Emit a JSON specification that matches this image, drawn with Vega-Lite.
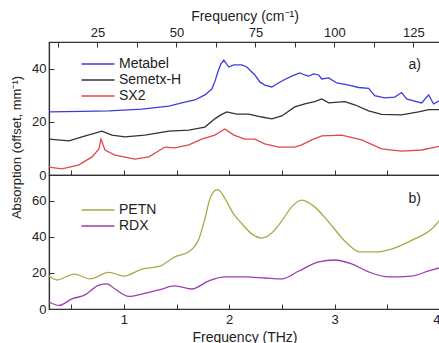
{
  "$schema": "https://vega.github.io/schema/vega-lite/v6.json",
  "autosize": {"type": "pad"},
  "padding": {"left": 9, "top": 8, "right": 0, "bottom": 0},
  "background": "white",
  "config": {
    "font": "Liberation Sans",
    "view": {"stroke": "#333", "strokeWidth": 1.2},
    "axis": {"grid": false, "labelFontSize": 13, "titleFontSize": 14, "titleFontWeight": "normal", "labelColor": "#222", "titleColor": "#222", "domainColor": "#333", "domainWidth": 1.2, "tickColor": "#333", "tickSize": -5, "labelPadding": 8, "titlePadding": 3},
    "legend": {"orient": "none", "title": null, "symbolType": "M-3,0H3", "symbolSize": 121, "symbolStrokeWidth": 1.5, "labelFontSize": 14, "labelOffset": 14, "padding": 0, "rowPadding": 2, "labelColor": "#222"}
  },
  "datasets": {
    "top": [
      {"s": "Metabel", "f": 0.290, "a": 23.7}, {"s": "Metabel", "f": 0.603, "a": 23.9}, {"s": "Metabel", "f": 0.859, "a": 24.1}, {"s": "Metabel", "f": 1.172, "a": 24.8}, {"s": "Metabel", "f": 1.427, "a": 25.9}, {"s": "Metabel", "f": 1.579, "a": 27.4}, {"s": "Metabel", "f": 1.674, "a": 28.2}, {"s": "Metabel", "f": 1.769, "a": 30.1}, {"s": "Metabel", "f": 1.835, "a": 32.3}, {"s": "Metabel", "f": 1.863, "a": 35.0}, {"s": "Metabel", "f": 1.892, "a": 38.7}, {"s": "Metabel", "f": 1.920, "a": 41.7}, {"s": "Metabel", "f": 1.949, "a": 43.2}, {"s": "Metabel", "f": 1.996, "a": 40.6}, {"s": "Metabel", "f": 2.044, "a": 41.4}, {"s": "Metabel", "f": 2.119, "a": 41.4}, {"s": "Metabel", "f": 2.167, "a": 40.6}, {"s": "Metabel", "f": 2.243, "a": 37.6}, {"s": "Metabel", "f": 2.290, "a": 35.0}, {"s": "Metabel", "f": 2.337, "a": 33.8}, {"s": "Metabel", "f": 2.404, "a": 33.1}, {"s": "Metabel", "f": 2.451, "a": 34.2}, {"s": "Metabel", "f": 2.518, "a": 35.7}, {"s": "Metabel", "f": 2.593, "a": 37.2}, {"s": "Metabel", "f": 2.669, "a": 38.4}, {"s": "Metabel", "f": 2.717, "a": 37.6}, {"s": "Metabel", "f": 2.754, "a": 37.2}, {"s": "Metabel", "f": 2.802, "a": 38.0}, {"s": "Metabel", "f": 2.849, "a": 37.6}, {"s": "Metabel", "f": 2.878, "a": 36.1}, {"s": "Metabel", "f": 2.944, "a": 36.5}, {"s": "Metabel", "f": 3.020, "a": 34.6}, {"s": "Metabel", "f": 3.134, "a": 33.8}, {"s": "Metabel", "f": 3.228, "a": 32.9}, {"s": "Metabel", "f": 3.323, "a": 32.6}, {"s": "Metabel", "f": 3.380, "a": 29.8}, {"s": "Metabel", "f": 3.475, "a": 29.0}, {"s": "Metabel", "f": 3.570, "a": 29.3}, {"s": "Metabel", "f": 3.636, "a": 31.0}, {"s": "Metabel", "f": 3.683, "a": 28.6}, {"s": "Metabel", "f": 3.759, "a": 27.8}, {"s": "Metabel", "f": 3.826, "a": 27.1}, {"s": "Metabel", "f": 3.892, "a": 30.1}, {"s": "Metabel", "f": 3.939, "a": 26.7}, {"s": "Metabel", "f": 4.006, "a": 28.2},
      {"s": "Semetx-H", "f": 0.290, "a": 13.5}, {"s": "Semetx-H", "f": 0.480, "a": 12.8}, {"s": "Semetx-H", "f": 0.603, "a": 14.3}, {"s": "Semetx-H", "f": 0.792, "a": 16.5}, {"s": "Semetx-H", "f": 0.887, "a": 15.0}, {"s": "Semetx-H", "f": 1.010, "a": 14.3}, {"s": "Semetx-H", "f": 1.200, "a": 15.0}, {"s": "Semetx-H", "f": 1.427, "a": 16.5}, {"s": "Semetx-H", "f": 1.617, "a": 16.9}, {"s": "Semetx-H", "f": 1.769, "a": 18.0}, {"s": "Semetx-H", "f": 1.863, "a": 21.1}, {"s": "Semetx-H", "f": 1.920, "a": 22.6}, {"s": "Semetx-H", "f": 1.977, "a": 23.7}, {"s": "Semetx-H", "f": 2.072, "a": 22.9}, {"s": "Semetx-H", "f": 2.186, "a": 22.9}, {"s": "Semetx-H", "f": 2.309, "a": 21.8}, {"s": "Semetx-H", "f": 2.404, "a": 21.1}, {"s": "Semetx-H", "f": 2.499, "a": 22.2}, {"s": "Semetx-H", "f": 2.622, "a": 25.6}, {"s": "Semetx-H", "f": 2.717, "a": 26.7}, {"s": "Semetx-H", "f": 2.811, "a": 27.6}, {"s": "Semetx-H", "f": 2.878, "a": 28.6}, {"s": "Semetx-H", "f": 2.944, "a": 27.1}, {"s": "Semetx-H", "f": 3.096, "a": 27.6}, {"s": "Semetx-H", "f": 3.190, "a": 26.4}, {"s": "Semetx-H", "f": 3.323, "a": 24.1}, {"s": "Semetx-H", "f": 3.446, "a": 22.8}, {"s": "Semetx-H", "f": 3.636, "a": 22.6}, {"s": "Semetx-H", "f": 3.797, "a": 23.7}, {"s": "Semetx-H", "f": 3.892, "a": 24.6}, {"s": "Semetx-H", "f": 4.006, "a": 24.6},
      {"s": "SX2", "f": 0.290, "a": 3.0}, {"s": "SX2", "f": 0.413, "a": 2.3}, {"s": "SX2", "f": 0.574, "a": 3.8}, {"s": "SX2", "f": 0.698, "a": 6.8}, {"s": "SX2", "f": 0.764, "a": 9.8}, {"s": "SX2", "f": 0.783, "a": 13.5}, {"s": "SX2", "f": 0.821, "a": 9.4}, {"s": "SX2", "f": 0.916, "a": 7.5}, {"s": "SX2", "f": 1.105, "a": 6.0}, {"s": "SX2", "f": 1.238, "a": 6.8}, {"s": "SX2", "f": 1.390, "a": 10.5}, {"s": "SX2", "f": 1.484, "a": 10.2}, {"s": "SX2", "f": 1.617, "a": 11.3}, {"s": "SX2", "f": 1.740, "a": 13.5}, {"s": "SX2", "f": 1.863, "a": 15.0}, {"s": "SX2", "f": 1.958, "a": 17.3}, {"s": "SX2", "f": 2.044, "a": 15.0}, {"s": "SX2", "f": 2.148, "a": 13.5}, {"s": "SX2", "f": 2.243, "a": 13.5}, {"s": "SX2", "f": 2.337, "a": 11.7}, {"s": "SX2", "f": 2.470, "a": 10.5}, {"s": "SX2", "f": 2.622, "a": 10.5}, {"s": "SX2", "f": 2.688, "a": 11.3}, {"s": "SX2", "f": 2.783, "a": 13.2}, {"s": "SX2", "f": 2.878, "a": 14.7}, {"s": "SX2", "f": 3.067, "a": 15.0}, {"s": "SX2", "f": 3.257, "a": 13.2}, {"s": "SX2", "f": 3.446, "a": 9.8}, {"s": "SX2", "f": 3.636, "a": 9.0}, {"s": "SX2", "f": 3.826, "a": 9.4}, {"s": "SX2", "f": 4.006, "a": 10.9}
    ],
    "bottom": [
      {"s": "PETN", "f": 0.290, "a": 18.3}, {"s": "PETN", "f": 0.366, "a": 16.1}, {"s": "PETN", "f": 0.527, "a": 19.4}, {"s": "PETN", "f": 0.679, "a": 16.7}, {"s": "PETN", "f": 0.859, "a": 20.3}, {"s": "PETN", "f": 1.001, "a": 18.3}, {"s": "PETN", "f": 1.172, "a": 22.2}, {"s": "PETN", "f": 1.333, "a": 23.6}, {"s": "PETN", "f": 1.484, "a": 28.9}, {"s": "PETN", "f": 1.627, "a": 32.2}, {"s": "PETN", "f": 1.712, "a": 38.9}, {"s": "PETN", "f": 1.769, "a": 50.0}, {"s": "PETN", "f": 1.816, "a": 61.0}, {"s": "PETN", "f": 1.863, "a": 65.6}, {"s": "PETN", "f": 1.892, "a": 66.3}, {"s": "PETN", "f": 1.920, "a": 65.0}, {"s": "PETN", "f": 1.958, "a": 61.5}, {"s": "PETN", "f": 2.044, "a": 52.5}, {"s": "PETN", "f": 2.119, "a": 47.5}, {"s": "PETN", "f": 2.214, "a": 41.7}, {"s": "PETN", "f": 2.309, "a": 39.4}, {"s": "PETN", "f": 2.404, "a": 42.2}, {"s": "PETN", "f": 2.499, "a": 48.9}, {"s": "PETN", "f": 2.593, "a": 56.7}, {"s": "PETN", "f": 2.688, "a": 60.4}, {"s": "PETN", "f": 2.811, "a": 56.7}, {"s": "PETN", "f": 2.944, "a": 48.3}, {"s": "PETN", "f": 3.096, "a": 37.8}, {"s": "PETN", "f": 3.238, "a": 31.7}, {"s": "PETN", "f": 3.380, "a": 31.7}, {"s": "PETN", "f": 3.541, "a": 33.3}, {"s": "PETN", "f": 3.759, "a": 38.9}, {"s": "PETN", "f": 3.920, "a": 44.4}, {"s": "PETN", "f": 4.006, "a": 50.0},
      {"s": "RDX", "f": 0.290, "a": 3.9}, {"s": "RDX", "f": 0.385, "a": 2.0}, {"s": "RDX", "f": 0.508, "a": 5.6}, {"s": "RDX", "f": 0.631, "a": 7.8}, {"s": "RDX", "f": 0.764, "a": 13.3}, {"s": "RDX", "f": 0.840, "a": 13.9}, {"s": "RDX", "f": 0.916, "a": 11.1}, {"s": "RDX", "f": 1.048, "a": 7.0}, {"s": "RDX", "f": 1.172, "a": 8.3}, {"s": "RDX", "f": 1.333, "a": 10.6}, {"s": "RDX", "f": 1.484, "a": 12.8}, {"s": "RDX", "f": 1.645, "a": 11.1}, {"s": "RDX", "f": 1.807, "a": 15.6}, {"s": "RDX", "f": 1.958, "a": 17.8}, {"s": "RDX", "f": 2.148, "a": 17.8}, {"s": "RDX", "f": 2.337, "a": 17.2}, {"s": "RDX", "f": 2.499, "a": 16.7}, {"s": "RDX", "f": 2.660, "a": 21.1}, {"s": "RDX", "f": 2.849, "a": 26.1}, {"s": "RDX", "f": 3.001, "a": 27.2}, {"s": "RDX", "f": 3.162, "a": 25.0}, {"s": "RDX", "f": 3.323, "a": 20.6}, {"s": "RDX", "f": 3.513, "a": 17.8}, {"s": "RDX", "f": 3.731, "a": 18.3}, {"s": "RDX", "f": 3.892, "a": 21.1}, {"s": "RDX", "f": 4.006, "a": 23.0}
    ]
  },
  "vconcat": [
    {
      "width": 391,
      "height": 133,
      "layer": [
        {
          "data": {"name": "top"},
          "mark": {"type": "line", "strokeWidth": 1.3},
          "encoding": {
            "x": {"field": "f", "type": "quantitative", "scale": {"domain": [0.29, 4.0], "nice": false, "zero": false},
                  "axis": {"orient": "bottom", "values": [0.5, 1, 1.5, 2, 2.5, 3, 3.5, 4], "labels": false, "title": null}},
            "y": {"field": "a", "type": "quantitative", "scale": {"domain": [0, 50], "nice": false},
                  "axis": {"values": [0, 10, 20, 30, 40], "labelExpr": "datum.value % 20 == 0 ? format(datum.value, 'd') : ''", "title": "Absorption (offset, mm⁻¹)", "titleX": -26, "titleY": 105, "titleFontSize": 13}},
            "color": {"field": "s", "type": "nominal", "scale": {"domain": ["Metabel", "Semetx-H", "SX2"], "range": ["#3c3cdc", "#333333", "#e0474c"]},
                      "legend": {"legendX": 42, "legendY": 15}}
          }
        },
        {
          "data": {"values": [{}]},
          "mark": {"type": "text", "text": "a)", "fontSize": 14, "color": "#222"},
          "encoding": {
            "x": {"datum": 3.76, "type": "quantitative",
                  "axis": {"orient": "top", "values": [0.3747, 0.7495, 1.1242, 1.499, 1.8737, 2.2485, 2.6232, 2.9979, 3.3727, 3.7474], "labelExpr": "round(datum.value * 33.3564) % 25 == 0 ? format(round(datum.value * 33.3564), 'd') : ''", "title": "Frequency (cm⁻¹)"}},
            "y": {"datum": 41.4, "type": "quantitative"}
          }
        }
      ],
      "resolve": {"axis": {"x": "independent"}}
    },
    {
      "width": 391,
      "height": 134,
      "layer": [
        {
          "data": {"name": "bottom"},
          "mark": {"type": "line", "strokeWidth": 1.3, "interpolate": "monotone"},
          "encoding": {
            "x": {"field": "f", "type": "quantitative", "scale": {"domain": [0.29, 4.0], "nice": false, "zero": false},
                  "axis": {"values": [0.5, 1, 1.5, 2, 2.5, 3, 3.5, 4], "labelExpr": "datum.value % 1 == 0 ? format(datum.value, 'd') : ''", "title": "Frequency (THz)", "labelPadding": 9, "titlePadding": 4, "labelFlush": true}},
            "y": {"field": "a", "type": "quantitative", "scale": {"domain": [0, 74.4], "nice": false},
                  "axis": {"values": [0, 10, 20, 30, 40, 50, 60, 70], "labelExpr": "datum.value % 20 == 0 ? format(datum.value, 'd') : ''", "title": null}},
            "color": {"field": "s", "type": "nominal", "scale": {"domain": ["PETN", "RDX"], "range": ["#a8aa44", "#9c3fae"]},
                      "legend": {"legendX": 42, "legendY": 28}}
          }
        },
        {
          "data": {"values": [{}]},
          "mark": {"type": "text", "text": "b)", "fontSize": 14, "color": "#222"},
          "encoding": {
            "x": {"datum": 3.76, "type": "quantitative"},
            "y": {"datum": 61.1, "type": "quantitative"}
          }
        }
      ]
    }
  ],
  "spacing": 0,
  "bounds": "flush",
  "resolve": {"scale": {"color": "independent"}, "legend": {"color": "independent"}}
}
